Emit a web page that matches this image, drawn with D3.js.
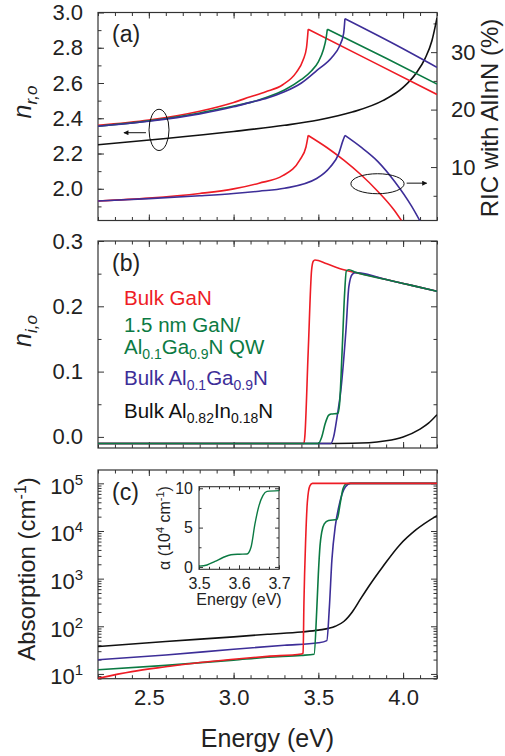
<!DOCTYPE html>
<html>
<head>
<meta charset="utf-8">
<script src="https://cdn.jsdelivr.net/npm/d3@7"></script>
<style>
  body { margin: 0; background: #fff; }
  text { font-family: "Liberation Sans", Arial, sans-serif; fill: #222; }
</style>
</head>
<body>
<svg id="chart" width="505" height="756"></svg>
<script>
// ---- data: [energy (eV), value] ----

// (a) real refractive index, left axis
const nrGaN    = [[2.2,2.36],[2.5,2.39],[2.8,2.44],[3.0,2.49],[3.094,2.52],[3.19,2.55],[3.29,2.59],[3.37,2.66],[3.41,2.73],[3.43,2.80],[3.44,2.905],[3.8,2.73],[4.2,2.535]];
const nrQW     = [[2.2,2.355],[2.5,2.385],[2.8,2.43],[3.0,2.47],[3.1,2.49],[3.2,2.52],[3.3,2.56],[3.4,2.62],[3.46,2.67],[3.5,2.72],[3.53,2.79],[3.545,2.85],[3.553,2.905],[3.9,2.74],[4.2,2.594]];
const nrAlGaN  = [[2.2,2.355],[2.5,2.383],[2.8,2.425],[3.0,2.465],[3.1,2.49],[3.2,2.515],[3.3,2.55],[3.4,2.60],[3.49,2.67],[3.584,2.75],[3.623,2.806],[3.649,2.88],[3.657,2.965],[3.95,2.82],[4.2,2.689]];
const nrAlInN  = [[2.2,2.25],[2.6,2.285],[3.0,2.325],[3.3,2.36],[3.5,2.39],[3.7,2.435],[3.88,2.50],[4.0,2.575],[4.08,2.66],[4.13,2.74],[4.17,2.84],[4.2,2.97]];
// (a) refractive index contrast with AlInN (%), right axis
const ricGaN   = [[2.2,4.1],[2.5,4.6],[2.8,5.4],[3.0,6.2],[3.15,7.2],[3.29,8.5],[3.39,11.2],[3.427,13.5],[3.44,15.5],[3.55,13.4],[3.65,11.2],[3.75,8.7],[3.85,5.8],[3.95,2.4],[3.99,0.7]];
const ricAlGaN = [[2.2,4.1],[2.5,4.5],[2.8,5.0],[3.0,5.4],[3.15,5.8],[3.3,6.3],[3.49,8.0],[3.57,10.0],[3.62,12.3],[3.645,14.6],[3.657,15.5],[3.75,13.5],[3.85,11.0],[3.95,7.5],[4.05,3.2],[4.1,0.6]];

// (b) imaginary refractive index
const niGaN    = [[2.2,-0.01],[3.415,-0.01],[3.42,0.0],[3.44,0.13],[3.46,0.255],[3.47,0.269],[3.48,0.271],[3.55,0.265],[3.65,0.256],[3.75,0.250],[3.9,0.241],[4.05,0.232],[4.2,0.223]];
const niQW     = [[2.2,-0.01],[3.50,-0.01],[3.52,0.0],[3.54,0.02],[3.56,0.033],[3.575,0.035],[3.615,0.036],[3.625,0.05],[3.64,0.13],[3.655,0.22],[3.665,0.254],[3.68,0.256],[3.72,0.252],[3.9,0.241],[4.05,0.232],[4.2,0.223]];
const niAlGaN  = [[2.2,-0.01],[3.574,-0.01],[3.59,0.0],[3.61,0.03],[3.633,0.072],[3.663,0.164],[3.68,0.23],[3.70,0.249],[3.72,0.2515],[3.75,0.251],[3.9,0.241],[4.05,0.232],[4.2,0.223]];
const niAlInN  = [[2.2,-0.01],[3.6,-0.01],[3.8,-0.009],[3.9,-0.006],[4.0,0.0],[4.1,0.012],[4.15,0.021],[4.2,0.034]];

// (c) absorption (cm^-1)
const abGaN    = [[2.2,8.1],[2.4,11.2],[2.6,14.1],[2.8,17.4],[3.0,20.4],[3.2,23.4],[3.4,26.3],[3.41,27.3],[3.415,320],[3.425,6300],[3.435,40000],[3.45,89000],[3.465,100000],[4.2,100000]];
const abQW     = [[2.2,12.2],[2.6,15.1],[3.0,19.5],[3.2,22.4],[3.4,24.5],[3.475,26],[3.49,200],[3.50,1260],[3.51,5000],[3.52,9500],[3.535,14100],[3.56,16600],[3.61,17400],[3.63,40000],[3.645,76000],[3.665,98000],[3.69,100000],[4.2,100000]];
const abAlGaN  = [[2.2,19.8],[2.6,25],[3.0,33],[3.3,40],[3.5,45],[3.55,50],[3.565,250],[3.58,2500],[3.60,12600],[3.62,31600],[3.64,60000],[3.66,85000],[3.69,100000],[4.2,100000]];
const abAlInN  = [[2.2,37.6],[2.6,48],[3.0,60],[3.2,68],[3.4,76],[3.5,83],[3.6,100],[3.65,126],[3.7,200],[3.75,380],[3.8,710],[3.88,1780],[3.98,5100],[4.075,10500],[4.2,21000]];
// inset: QW absorption (10^4 cm^-1)
const insetQW  = [[3.50,0.1],[3.52,0.25],[3.54,0.7],[3.56,1.2],[3.58,1.55],[3.60,1.62],[3.62,1.65],[3.63,2.5],[3.64,5.5],[3.65,7.8],[3.66,9.1],[3.67,9.6],[3.70,9.7]];

// tick values
const xMajor = [2.5, 3.0, 3.5, 4.0];
const xMinor = d3.range(22, 43).map(d => d / 10);
const nrMajor = [2.0, 2.2, 2.4, 2.6, 2.8, 3.0];
const nrMinor = d3.range(19, 30).map(d => d / 10);
const ricMajor = [10, 20, 30];
const ricMinor = [5, 15, 25, 35];
const niMajor = [0.0, 0.1, 0.2, 0.3];
const niMinor = [0.05, 0.15, 0.25];
const abMajor = [1e1, 1e2, 1e3, 1e4, 1e5];
const insetXMajor = [3.5, 3.6, 3.7];
const insetYMajor = [0, 5, 10];

const colors = { GaN: "#ee1c25", QW: "#0b7a43", AlGaN: "#3d2e98", AlInN: "#111111" };

// legend entries: parts are [text, isSubscript]
const legend = [
  { c: "GaN",   lines: [[["Bulk GaN", 0]]] },
  { c: "QW",    lines: [[["1.5 nm GaN/", 0]], [["Al", 0], ["0.1", 1], ["Ga", 0], ["0.9", 1], ["N QW", 0]]] },
  { c: "AlGaN", lines: [[["Bulk Al", 0], ["0.1", 1], ["Ga", 0], ["0.9", 1], ["N", 0]]] },
  { c: "AlInN", lines: [[["Bulk Al", 0], ["0.82", 1], ["In", 0], ["0.18", 1], ["N", 0]]] }
];

// ---- layout ----
const svg = d3.select("#chart");
const left = 98, right = 437;
const pa = { top: 12.5, bottom: 220.5 };
const pb = { top: 241, bottom: 448 };
const pc = { top: 470, bottom: 678.7 };

const x = d3.scaleLinear().domain([2.2, 4.2]).range([left, right]);
const yA = d3.scaleLinear().domain([1.82, 3.0]).range([pa.bottom, pa.top]);
const yA2 = d3.scaleLinear().domain([0.7, 36.9]).range([pa.bottom, pa.top]);
const yB = d3.scaleLinear().domain([-0.017, 0.3]).range([pb.bottom, pb.top]);
const yC = d3.scaleLog().domain([Math.pow(10, 0.9), Math.pow(10, 5.28)]).range([pc.bottom, pc.top]);

const ix = d3.scaleLinear().domain([3.5, 3.7]).range([199, 279]);
const iy = d3.scaleLinear().domain([-0.3, 10.2]).range([569.3, 486.7]);

const tickStroke = "#333";

function ticks(axis, tr, vals, size) {
  svg.append("g")
    .attr("transform", tr)
    .call(axis.tickValues(vals).tickSize(size).tickFormat(""))
    .call(g => g.select(".domain").remove())
    .selectAll("line").attr("stroke", tickStroke);
}

function panelFrame(p, yL, yR, lMajor, lMinor, rMajor, rMinor) {
  svg.append("rect")
    .attr("x", left).attr("y", p.top)
    .attr("width", right - left).attr("height", p.bottom - p.top)
    .attr("fill", "none").attr("stroke", tickStroke).attr("stroke-width", 1.2);
  ticks(d3.axisBottom(x), `translate(0,${p.bottom})`, xMajor, -6);
  ticks(d3.axisBottom(x), `translate(0,${p.bottom})`, xMinor, -3.5);
  ticks(d3.axisTop(x), `translate(0,${p.top})`, xMajor, -6);
  ticks(d3.axisTop(x), `translate(0,${p.top})`, xMinor, -3.5);
  ticks(d3.axisLeft(yL), `translate(${left},0)`, lMajor, -6);
  ticks(d3.axisLeft(yL), `translate(${left},0)`, lMinor, -3.5);
  ticks(d3.axisRight(yR), `translate(${right},0)`, rMajor, -6);
  ticks(d3.axisRight(yR), `translate(${right},0)`, rMinor, -3.5);
}

function clip(id, p) {
  svg.append("clipPath").attr("id", id)
    .append("rect").attr("x", left).attr("y", p.top)
    .attr("width", right - left).attr("height", p.bottom - p.top);
}

function curve(data, yS, color, clipId, splitAtPeak) {
  const line = d3.line().x(d => x(d[0])).y(d => yS(d[1])).curve(d3.curveMonotoneX);
  const parts = [];
  if (splitAtPeak) {
    const k = d3.maxIndex(data, d => d[1]);
    parts.push(data.slice(0, k + 1), data.slice(k));
  } else {
    parts.push(data);
  }
  parts.forEach(part => {
    svg.append("path").datum(part)
      .attr("clip-path", `url(#${clipId})`)
      .attr("fill", "none").attr("stroke", color)
      .attr("stroke-width", 1.6).attr("stroke-linejoin", "round")
      .attr("d", line);
  });
}

function labels(axis, tr, vals, fmt, size, pad) {
  return svg.append("g")
    .attr("transform", tr)
    .call(axis.tickValues(vals).tickSize(0).tickPadding(pad).tickFormat(fmt))
    .call(g => g.select(".domain").remove())
    .call(g => g.selectAll("text").attr("font-size", size).attr("fill", "#222"));
}

clip("clipA", pa); clip("clipB", pb); clip("clipC", pc);

// ---- panel (a) ----
panelFrame(pa, yA, yA2, nrMajor, nrMinor, ricMajor, ricMinor);
labels(d3.axisLeft(yA), `translate(${left},0)`, nrMajor, d3.format(".1f"), 22, 15);
labels(d3.axisRight(yA2), `translate(${right},0)`, ricMajor, d3.format("d"), 22, 14);

curve(nrAlInN, yA, colors.AlInN, "clipA", false);
curve(nrGaN, yA, colors.GaN, "clipA", true);
curve(nrQW, yA, colors.QW, "clipA", true);
curve(nrAlGaN, yA, colors.AlGaN, "clipA", true);
curve(ricGaN, yA2, colors.GaN, "clipA", true);
curve(ricAlGaN, yA2, colors.AlGaN, "clipA", true);

// ellipses with arrows
svg.append("defs").append("marker")
  .attr("id", "arrow").attr("viewBox", "0 0 10 10")
  .attr("refX", 9).attr("refY", 5).attr("markerWidth", 6).attr("markerHeight", 5)
  .attr("orient", "auto")
  .append("path").attr("d", "M0,0 L10,5 L0,10 z").attr("fill", "#111");

svg.append("ellipse")
  .attr("cx", x(2.56)).attr("cy", yA(2.334))
  .attr("rx", x(2.56 + 0.059) - x(2.56)).attr("ry", yA(2.334) - yA(2.334 + 0.117))
  .attr("fill", "none").attr("stroke", "#111").attr("stroke-width", 1);
svg.append("line")
  .attr("x1", x(2.483)).attr("y1", yA(2.318)).attr("x2", x(2.353)).attr("y2", yA(2.318))
  .attr("stroke", "#111").attr("stroke-width", 1).attr("marker-end", "url(#arrow)");

svg.append("ellipse")
  .attr("cx", x(3.849)).attr("cy", yA2(7.1))
  .attr("rx", x(3.849 + 0.157) - x(3.849)).attr("ry", yA2(7.1) - yA2(7.1 + 1.74))
  .attr("fill", "none").attr("stroke", "#111").attr("stroke-width", 1);
svg.append("line")
  .attr("x1", x(4.021)).attr("y1", yA2(7.2)).attr("x2", x(4.139)).attr("y2", yA2(7.2))
  .attr("stroke", "#111").attr("stroke-width", 1).attr("marker-end", "url(#arrow)");

svg.append("text").attr("x", 112).attr("y", 42).attr("font-size", 23).text("(a)");

// ---- panel (b) ----
panelFrame(pb, yB, yB, niMajor, niMinor, niMajor, niMinor);
labels(d3.axisLeft(yB), `translate(${left},0)`, niMajor, d3.format(".1f"), 22, 15);

curve(niAlInN, yB, colors.AlInN, "clipB", false);
curve(niGaN, yB, colors.GaN, "clipB", false);
curve(niAlGaN, yB, colors.AlGaN, "clipB", false);
curve(niQW, yB, colors.QW, "clipB", false);

svg.append("text").attr("x", 112).attr("y", 271).attr("font-size", 23).text("(b)");

// legend: one text element per entry, wrapped lines as tspans
const legY = [305, 332, 385, 418];
const lineGap = 22, subShift = 5;
legend.forEach((entry, i) => {
  const col = colors[entry.c];
  const t = svg.append("text").attr("x", 124).attr("y", legY[i])
    .attr("font-size", 20.5).style("fill", col);
  entry.lines.forEach((parts, j) => {
    let sub = false;
    parts.forEach(([s, isSub], k) => {
      const sp = t.append("tspan").text(s).style("fill", col);
      let dy = 0;
      if (j > 0 && k === 0) { sp.attr("x", 124); dy += lineGap; }
      if (isSub) { sp.attr("font-size", 14); if (!sub) { dy += subShift; sub = true; } }
      else if (sub) { dy -= subShift; sub = false; }
      if (dy) sp.attr("dy", dy);
    });
  });
});

// ---- panel (c) ----
const abMinor = [];
for (let e = 0; e <= 5; e++) for (let k = 2; k <= 9; k++) {
  const v = k * Math.pow(10, e);
  if (v >= yC.domain()[0] && v <= yC.domain()[1] && v !== 10) abMinor.push(v);
}
panelFrame(pc, yC, yC, abMajor, abMinor, abMajor, abMinor);
const abLab = labels(d3.axisLeft(yC), `translate(${left},0)`, abMajor, d => "", 22, 15);
abLab.selectAll("text").each(function (d) {
  const t = d3.select(this);
  t.append("tspan").text("10");
  t.append("tspan").attr("dy", -9).attr("font-size", 15).text(Math.round(Math.log10(d)));
}).attr("dy", "0.45em");

labels(d3.axisBottom(x), `translate(0,${pc.bottom})`, xMajor, d3.format(".1f"), 22, 11);

curve(abAlInN, yC, colors.AlInN, "clipC", false);
curve(abAlGaN, yC, colors.AlGaN, "clipC", false);
curve(abQW, yC, colors.QW, "clipC", false);
curve(abGaN, yC, colors.GaN, "clipC", false);

svg.append("text").attr("x", 112).attr("y", 500).attr("font-size", 23).text("(c)");

// inset
svg.append("rect").attr("x", ix.range()[0]).attr("y", iy.range()[1])
  .attr("width", ix.range()[1] - ix.range()[0]).attr("height", iy.range()[0] - iy.range()[1])
  .attr("fill", "#fff").attr("stroke", tickStroke).attr("stroke-width", 1.1);
const iyb = iy.range()[0], iyt = iy.range()[1], ixl = ix.range()[0], ixr = ix.range()[1];
ticks(d3.axisBottom(ix), `translate(0,${iyb})`, insetXMajor, -4);
ticks(d3.axisBottom(ix), `translate(0,${iyb})`, [3.525, 3.55, 3.575, 3.625, 3.65, 3.675], -2.5);
ticks(d3.axisTop(ix), `translate(0,${iyt})`, insetXMajor, -4);
ticks(d3.axisTop(ix), `translate(0,${iyt})`, [3.525, 3.55, 3.575, 3.625, 3.65, 3.675], -2.5);
ticks(d3.axisLeft(iy), `translate(${ixl},0)`, insetYMajor, -4);
ticks(d3.axisLeft(iy), `translate(${ixl},0)`, [2.5, 7.5], -2.5);
ticks(d3.axisRight(iy), `translate(${ixr},0)`, insetYMajor, -4);
ticks(d3.axisRight(iy), `translate(${ixr},0)`, [1.25, 2.5, 3.75, 6.25, 7.5, 8.75], -2.5);
labels(d3.axisLeft(iy), `translate(${ixl},0)`, insetYMajor, d3.format("d"), 16, 6);
labels(d3.axisBottom(ix), `translate(0,${iyb})`, insetXMajor, d3.format(".1f"), 16, 8);

svg.append("path").datum(insetQW)
  .attr("fill", "none").attr("stroke", colors.QW).attr("stroke-width", 1.4)
  .attr("d", d3.line().x(d => ix(d[0])).y(d => iy(d[1])).curve(d3.curveMonotoneX));

svg.append("text").attr("x", (ixl + ixr) / 2).attr("y", 605).attr("text-anchor", "middle")
  .attr("font-size", 16).text("Energy (eV)");
const al = svg.append("text").attr("transform", `translate(170,${(iyb + iyt) / 2}) rotate(-90)`)
  .attr("text-anchor", "middle").attr("font-size", 16);
al.append("tspan").text("\u03B1 (10");
al.append("tspan").attr("dy", -6).attr("font-size", 11).text("4");
al.append("tspan").attr("dy", 6).text(" cm");
al.append("tspan").attr("dy", -6).attr("font-size", 11).text("-1");
al.append("tspan").attr("dy", 6).text(")");

// ---- axis titles ----
svg.append("text").attr("x", (left + right) / 2).attr("y", 747)
  .attr("text-anchor", "middle").attr("font-size", 25).text("Energy (eV)");

const tA = svg.append("text").attr("transform", `translate(31,102) rotate(-90)`)
  .attr("text-anchor", "middle").attr("font-size", 25);
tA.append("tspan").attr("font-style", "italic").text("n");
tA.append("tspan").attr("dy", 6).attr("font-size", 17).attr("font-style", "italic").text("r,o");

const tB = svg.append("text").attr("transform", `translate(31,331) rotate(-90)`)
  .attr("text-anchor", "middle").attr("font-size", 25);
tB.append("tspan").attr("font-style", "italic").text("n");
tB.append("tspan").attr("dy", 6).attr("font-size", 17).attr("font-style", "italic").text("i,o");

const tC = svg.append("text").attr("transform", `translate(35,569) rotate(-90)`)
  .attr("text-anchor", "middle").attr("font-size", 24);
tC.append("tspan").text("Absorption (cm");
tC.append("tspan").attr("dy", -9).attr("font-size", 16).text("-1");
tC.append("tspan").attr("dy", 9).text(")");

svg.append("text").attr("transform", `translate(498,118) rotate(-90)`)
  .attr("text-anchor", "middle").attr("font-size", 24).text("RIC with AlInN (%)");
</script>
</body>
</html>
